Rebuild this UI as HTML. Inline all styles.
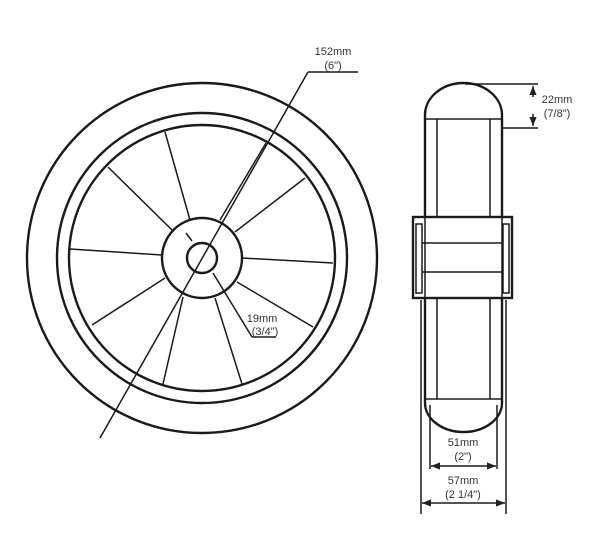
<!DOCTYPE html>
<html><head><style>body{margin:0;background:#fff}svg{display:block}text{font-family:"Liberation Sans",sans-serif;font-size:11px;fill:#333;text-anchor:middle}</style></head>
<body>
<svg width="600" height="544" viewBox="0 0 600 544" xmlns="http://www.w3.org/2000/svg">
<defs><marker id="a" viewBox="0 0 10 10" refX="10" refY="5" markerWidth="6" markerHeight="6" orient="auto-start-reverse"><path d="M0,1L10,5L0,9z" fill="#222"/></marker></defs>
<g fill="none" stroke="#1a1a1a" stroke-width="2.4">
<circle cx="202" cy="258" r="175"/>
<circle cx="202" cy="258" r="145"/>
<circle cx="202" cy="258" r="133"/>
<circle cx="202" cy="258" r="40"/>
<circle cx="202" cy="258" r="15"/>
</g>
<g stroke="#1a1a1a" stroke-width="1.5">
<line x1="190" y1="220" x2="165" y2="132"/>
<line x1="172" y1="230" x2="108" y2="167"/>
<line x1="162" y1="255" x2="70" y2="249"/>
<line x1="165" y1="278" x2="92" y2="325"/>
<line x1="183" y1="297" x2="163" y2="384"/>
<line x1="215" y1="298" x2="242" y2="384"/>
<line x1="237" y1="282" x2="313" y2="327"/>
<line x1="242" y1="258" x2="333" y2="263"/>
<line x1="235" y1="232" x2="305" y2="178"/>
<line x1="220" y1="220" x2="266" y2="143"/>
<line x1="100" y1="438" x2="308" y2="72"/>
<line x1="308" y1="72" x2="358" y2="72"/>
<line x1="186" y1="233" x2="192" y2="241"/>
<line x1="213" y1="273" x2="252" y2="337"/>
<line x1="252" y1="337" x2="276" y2="337"/>
</g>
<text x="333" y="55">152mm</text><text x="333" y="69">(6")</text>
<text x="262" y="322">19mm</text><text x="265" y="335">(3/4")</text>
<g fill="none" stroke="#1a1a1a" stroke-width="2.4">
<path d="M425,115 A38.5,32 0 0 1 502,115 V403 A38.5,29 0 0 1 425,403 Z"/>
<rect x="413" y="217" width="99" height="81" fill="#fff"/>
</g>
<g fill="none" stroke="#1a1a1a" stroke-width="1.5">
<line x1="425" y1="119" x2="502" y2="119"/>
<line x1="437" y1="119" x2="437" y2="217"/><line x1="490" y1="119" x2="490" y2="217"/>
<line x1="437" y1="298" x2="437" y2="399"/><line x1="490" y1="298" x2="490" y2="399"/>
<line x1="425" y1="399" x2="502" y2="399"/>
<rect x="416" y="224" width="6" height="69"/><rect x="503" y="224" width="6" height="69"/>
<line x1="425" y1="217" x2="425" y2="298"/><line x1="502" y1="217" x2="502" y2="298"/>
<line x1="422" y1="243" x2="503" y2="243"/><line x1="422" y1="272" x2="503" y2="272"/>
<line x1="465" y1="84" x2="538" y2="84"/><line x1="502" y1="128" x2="538" y2="128"/>
<line x1="533" y1="97" x2="533" y2="86" marker-end="url(#a)"/>
<line x1="533" y1="114" x2="533" y2="126" marker-end="url(#a)"/>
<line x1="430" y1="405" x2="430" y2="469"/><line x1="497" y1="405" x2="497" y2="469"/>
<line x1="431" y1="466" x2="496" y2="466" marker-start="url(#a)" marker-end="url(#a)"/>
<line x1="421" y1="300" x2="421" y2="514"/><line x1="506" y1="300" x2="506" y2="514"/>
<line x1="422" y1="503" x2="505" y2="503" marker-start="url(#a)" marker-end="url(#a)"/>
</g>
<text x="557" y="103">22mm</text><text x="557" y="117">(7/8")</text>
<text x="463" y="446">51mm</text><text x="463" y="460">(2")</text>
<text x="463" y="484">57mm</text><text x="463" y="498">(2 1/4")</text>
</svg>
</body></html>
